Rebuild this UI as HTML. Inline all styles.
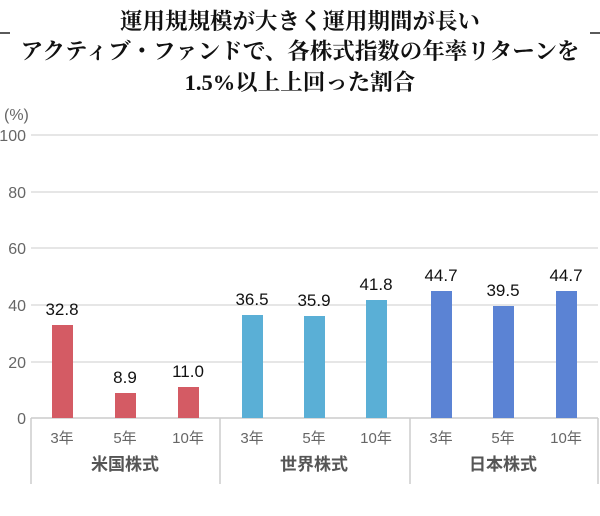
<!DOCTYPE html>
<html><head><meta charset="utf-8"><style>
body{margin:0;background:#fff;width:600px;height:511px;overflow:hidden}
</style></head><body>
<svg width="600" height="511" xmlns="http://www.w3.org/2000/svg">
<g font-family="'Liberation Serif','Noto Serif CJK SC',serif" font-weight="bold" font-size="22.5" fill="#111" text-anchor="middle">
<text x="300" y="29">運用規規模が大きく運用期間が長い</text>
<text x="300" y="59">アクティブ・ファンドで、各株式指数の年率リターンを</text>
<text x="300" y="90">1.5%以上上回った割合</text>
</g>
<line x1="0" y1="33" x2="10" y2="33" stroke="#222" stroke-width="1.5"/>
<line x1="590" y1="33" x2="600" y2="33" stroke="#222" stroke-width="1.5"/>
<g font-family="'Liberation Sans','Noto Sans CJK JP',sans-serif" font-size="16" fill="#666">
<text x="4" y="120">(%)</text>
<g text-anchor="end">
<text x="26" y="141">100</text><text x="26" y="198">80</text><text x="26" y="254">60</text>
<text x="26" y="311">40</text><text x="26" y="368">20</text><text x="26" y="424">0</text>
</g></g>
<g stroke="#ddd" stroke-width="1.5">
<line x1="31" y1="135" x2="598" y2="135"/><line x1="31" y1="192" x2="598" y2="192"/>
<line x1="31" y1="248" x2="598" y2="248"/><line x1="31" y1="305" x2="598" y2="305"/>
<line x1="31" y1="362" x2="598" y2="362"/>
</g>
<g stroke="#ccc" stroke-width="1.5">
<line x1="31" y1="418" x2="598" y2="418"/>
<line x1="31" y1="418" x2="31" y2="484"/><line x1="220" y1="418" x2="220" y2="484"/>
<line x1="410" y1="418" x2="410" y2="484"/><line x1="598" y1="418" x2="598" y2="484"/>
</g>
<g fill="#d45b64">
<rect x="52" y="325" width="21" height="93"/><rect x="115" y="393" width="21" height="25"/><rect x="178" y="387" width="21" height="31"/>
</g>
<g fill="#5aafd6">
<rect x="242" y="315" width="21" height="103"/><rect x="304" y="316" width="21" height="102"/><rect x="366" y="300" width="21" height="118"/>
</g>
<g fill="#5b83d4">
<rect x="431" y="291" width="21" height="127"/><rect x="493" y="306" width="21" height="112"/><rect x="556" y="291" width="21" height="127"/>
</g>
<g font-family="'Liberation Sans',sans-serif" font-size="17" fill="#111" text-anchor="middle">
<text x="62" y="315">32.8</text><text x="125" y="383">8.9</text><text x="188" y="377">11.0</text>
<text x="252" y="305">36.5</text><text x="314" y="306">35.9</text><text x="376" y="290">41.8</text>
<text x="441" y="281">44.7</text><text x="503" y="296">39.5</text><text x="566" y="281">44.7</text>
</g>
<g font-family="'Liberation Sans','Noto Sans CJK JP',sans-serif" font-size="15" fill="#666" text-anchor="middle">
<text x="62" y="443">3年</text><text x="125" y="443">5年</text><text x="188" y="443">10年</text>
<text x="252" y="443">3年</text><text x="314" y="443">5年</text><text x="376" y="443">10年</text>
<text x="441" y="443">3年</text><text x="503" y="443">5年</text><text x="566" y="443">10年</text>
</g>
<g font-family="'Liberation Sans','Noto Sans CJK JP',sans-serif" font-size="17" font-weight="bold" fill="#555" text-anchor="middle">
<text x="125" y="470">米国株式</text><text x="314" y="470">世界株式</text><text x="503" y="470">日本株式</text>
</g>
</svg>
</body></html>
